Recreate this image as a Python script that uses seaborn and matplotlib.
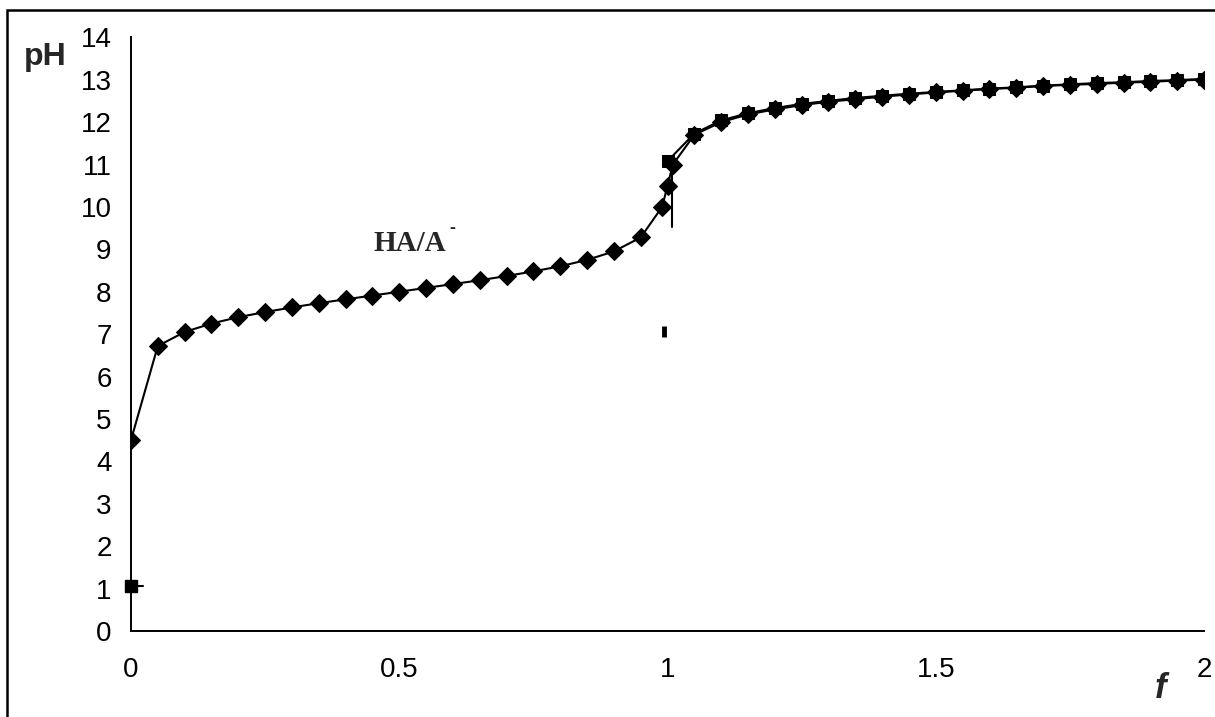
import numpy as np
import pandas as pd
import matplotlib
matplotlib.use('Agg')
import matplotlib.pyplot as plt
import seaborn as sns
from matplotlib.patches import Rectangle

sns.set_theme(style='white')
plt.rcParams['font.family'] = ['Liberation Sans', 'DejaVu Sans']

# ── Данные: слабая кислота HA (ромбы) ────────────────────────────────────────
f_weak = [0.00, 0.05, 0.10, 0.15, 0.20, 0.25, 0.30, 0.35, 0.40, 0.45,
          0.50, 0.55, 0.60, 0.65, 0.70, 0.75, 0.80, 0.85, 0.90, 0.95,
          0.99, 1.00, 1.01, 1.05, 1.10, 1.15, 1.20, 1.25, 1.30, 1.35,
          1.40, 1.45, 1.50, 1.55, 1.60, 1.65, 1.70, 1.75, 1.80, 1.85,
          1.90, 1.95, 2.00]
ph_weak = [4.50, 6.72, 7.05, 7.25, 7.40, 7.52, 7.63, 7.73, 7.82, 7.91,
           8.00, 8.09, 8.18, 8.27, 8.37, 8.48, 8.60, 8.75, 8.95, 9.28,
           10.00, 10.50, 11.00, 11.70, 12.00, 12.18, 12.30, 12.40, 12.48, 12.54,
           12.60, 12.65, 12.70, 12.74, 12.78, 12.81, 12.85, 12.88, 12.90, 12.93,
           12.95, 12.98, 13.00]

# ── Данные: сильная кислота (квадраты), видимая часть ────────────────────────
f_strong = [1.00, 1.05, 1.10, 1.15, 1.20, 1.25, 1.30, 1.35, 1.40, 1.45,
            1.50, 1.55, 1.60, 1.65, 1.70, 1.75, 1.80, 1.85, 1.90, 1.95, 2.00]
ph_strong = [11.08, 11.73, 12.04, 12.21, 12.33, 12.43, 12.50, 12.57, 12.62, 12.67,
             12.71, 12.75, 12.79, 12.82, 12.86, 12.89, 12.92, 12.94, 12.97, 12.99, 13.02]
f_start, ph_start = [0.0], [1.05]

weak = pd.DataFrame({'f': f_weak, 'pH': ph_weak})
strong = pd.DataFrame({'f': f_strong, 'pH': ph_strong})

fig = plt.figure(figsize=(12.15, 7.17), dpi=100)
ax = fig.add_axes([0.1078, 0.12, 0.8832, 0.828])

sns.lineplot(data=weak, x='f', y='pH', color='black', lw=1.5, marker='D',
             markersize=9.5, markeredgecolor='black', ax=ax, zorder=3)
sns.lineplot(data=strong, x='f', y='pH', color='black', lw=1.5, marker='s',
             markersize=9, markeredgecolor='black', ax=ax, zorder=4)

# начало кривой сильной кислоты и вертикальные отрезки у точки эквивалентности
ax.plot(f_start, ph_start, marker='s', markersize=9, color='black', zorder=4,
        clip_on=False)
ax.plot([0.0, 0.022], [1.05, 1.05], color='black', lw=1.5)
ax.plot([1.008, 1.008], [9.52, 11.08], color='black', lw=1.5)
ax.plot([0.993, 0.993], [6.93, 7.2], color='black', lw=3.5, solid_capstyle='butt')

ax.set_xlim(0, 2)
ax.set_ylim(0, 14)
ax.set_xticks([0, 0.5, 1, 1.5, 2])
ax.set_xticklabels(['0', '0.5', '1', '1.5', '2'])
ax.set_yticks(range(0, 15))
ax.tick_params(axis='both', direction='out', length=6, width=1.4,
               labelsize=20, colors='black')
ax.tick_params(axis='y', pad=8)
ax.tick_params(axis='x', pad=13)
ax.set_xlabel('')
ax.set_ylabel('')
for side in ['top', 'right']:
    ax.spines[side].set_visible(False)
for side in ['left', 'bottom']:
    ax.spines[side].set_color('black')
    ax.spines[side].set_linewidth(1.4)

fig.text(45 / 1215, 1 - 57 / 717, 'pH', fontsize=23, fontweight='bold',
         va='center', ha='center')
fig.text(1161 / 1215, 1 - 688 / 717, 'f', fontsize=25, fontweight='bold',
         style='italic', va='center', ha='center')
ax.text(0.52, 9.14, 'HA/A', fontsize=21, fontweight='bold',
        family='Liberation Serif', ha='center', va='center')
ax.text(0.598, 9.5, '-', fontsize=13, fontweight='bold',
        family='Liberation Serif', ha='center', va='center')

fig.patches.append(Rectangle((7 / 1215, -0.05), 1.1, 1 - 10 / 717 + 0.05,
                             transform=fig.transFigure, fill=False,
                             edgecolor='black', lw=1.8))

fig.savefig('out.png', dpi=100)
